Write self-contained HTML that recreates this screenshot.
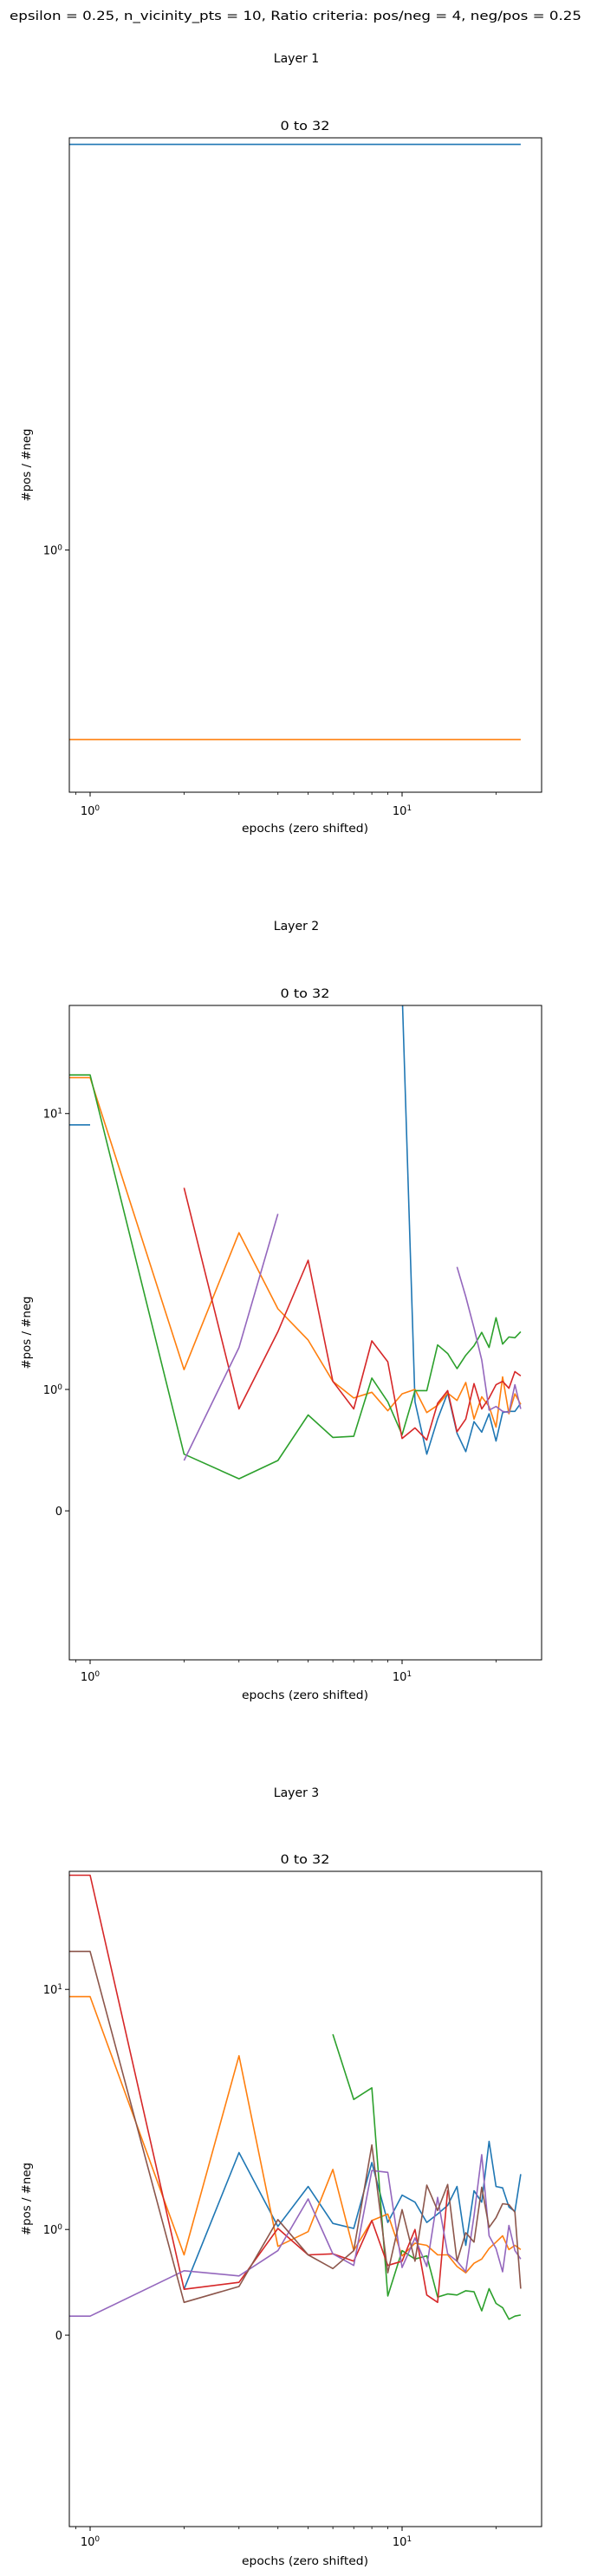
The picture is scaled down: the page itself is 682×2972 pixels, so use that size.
<!DOCTYPE html>
<html><head><meta charset="utf-8"><style>
html,body{margin:0;padding:0;background:#fff}
svg{display:block}
text{font-family:"DejaVu Sans","Liberation Sans",sans-serif;fill:#000}
</style></head><body>
<svg id="fig" width="682" height="2972" viewBox="0 0 682 2972" xmlns="http://www.w3.org/2000/svg">
<text x="341" y="23" font-size="14" text-anchor="middle" textLength="660" lengthAdjust="spacingAndGlyphs">epsilon = 0.25, n_vicinity_pts = 10, Ratio criteria: pos/neg = 4, neg/pos = 0.25</text>
<g id="charts"></g>
</svg>
<script>
// epochs 0..24 (epoch 0 is clipped off the log axis)
const epochs = [0,1,2,3,4,5,6,7,8,9,10,11,12,13,14,15,16,17,18,19,20,21,22,23,24];
const xTicks = [1,10];
const xMinor = [2,3,4,5,6,7,8,9,20];
const colors = ['#1f77b4','#ff7f0e','#2ca02c','#d62728','#9467bd','#8c564b'];
const N = null;
// Layer 1
const l1Blue = Array(25).fill(1.49);
const l1Orange = Array(25).fill(0.83);
// Layer 2
const l2Blue = [9.1,9.1,N,N,N,N,N,N,N,N,28,0.898,0.467,0.756,0.972,0.64,0.488,0.735,0.648,0.80,0.575,0.81,0.82,0.82,0.886];
const l2Orange = [13.5,13.5,1.18,3.7,1.96,1.51,1.07,0.93,0.977,0.825,0.964,1.0,0.81,0.87,0.97,0.91,1.06,0.756,0.94,0.86,0.69,1.11,0.8,0.964,0.877];
const l2Green = [13.8,13.8,0.467,0.264,0.415,0.79,0.605,0.614,1.10,0.898,0.627,0.99,0.99,1.45,1.35,1.19,1.33,1.44,1.61,1.42,1.82,1.46,1.55,1.54,1.62];
const l2Red = [N,N,5.38,0.84,1.62,2.94,1.07,0.84,1.50,1.26,0.596,0.683,0.583,0.886,0.99,0.652,0.756,1.05,0.84,0.93,1.04,1.07,1.01,1.16,1.12];
const l2Purple = [N,N,0.415,1.42,4.33,N,N,N,N,N,N,N,N,N,N,2.78,2.17,1.67,1.28,0.83,0.86,0.82,0.81,1.04,0.84];
// Layer 3
const l3Blue = [N,N,0.434,2.09,1.03,1.51,1.06,1.01,1.90,1.07,1.39,1.30,1.07,1.16,1.26,1.51,0.85,1.45,1.30,2.33,1.51,1.49,1.24,1.19,1.70];
const l3Orange = [9.33,9.33,0.76,5.29,0.84,0.98,1.78,0.80,1.09,1.16,0.75,0.87,0.85,0.76,0.76,0.65,0.59,0.68,0.72,0.82,0.88,0.94,0.81,0.85,0.81];
const l3Green = [N,N,N,N,N,N,6.5,3.48,3.89,0.37,0.80,0.72,0.75,0.36,0.39,0.38,0.42,0.41,0.23,0.44,0.30,0.26,0.15,0.18,0.19];
const l3Red = [29.9,29.9,0.434,0.50,1.01,0.76,0.77,0.70,1.09,0.66,0.70,1.0,0.38,0.31,1.46,N,N,N,N,N,N,N,N,N,N];
const l3Purple = [0.18,0.18,0.61,0.56,0.80,1.34,0.77,0.66,1.76,1.73,0.64,0.92,0.65,1.36,0.77,0.70,0.60,1.14,2.05,0.94,0.82,0.60,1.04,0.80,0.72];
const l3Brown = [14.4,14.4,0.31,0.46,1.10,0.76,0.63,0.80,2.25,0.59,1.21,0.70,1.53,1.20,1.54,0.70,0.97,0.88,1.50,1.02,1.12,1.28,1.27,1.18,0.44];

const NS='http://www.w3.org/2000/svg';
const root=document.getElementById('charts');
function mk(tag,attrs,parent){const e=document.createElementNS(NS,tag);for(const k in attrs)e.setAttribute(k,attrs[k]);(parent||root).appendChild(e);return e;}
const L=0.44;
function xScale(e){return e<=0?40:104+Math.log10(e)*360;}
function symUnits(v){return v>=1?L+Math.log10(v):v*L;}

const panels=[
 {name:'layer-1',title:'Layer 1',titleY:72,subY:150,top:159,bottom:914,tickY:940,labelY:960,
  y:v=>914-(Math.log10(v)+0.1034)/0.2794*755,
  yTicks:[1],series:[l1Blue,l1Orange],cidx:[0,1]},
 {name:'layer-2',title:'Layer 2',titleY:1073,subY:1151,top:1160,bottom:1915,tickY:1939,labelY:1960,
  y:v=>1743.1-symUnits(v)*318.3,
  yTicks:[10,1,0],series:[l2Blue,l2Orange,l2Green,l2Red,l2Purple],cidx:[0,1,2,3,4]},
 {name:'layer-3',title:'Layer 3',titleY:2073,subY:2150,top:2159,bottom:2915,tickY:2937,labelY:2959,
  y:v=>2694.1-symUnits(v)*277,
  yTicks:[10,1,0],series:[l3Blue,l3Orange,l3Green,l3Red,l3Purple,l3Brown],cidx:[0,1,2,3,4,5]}
];
const left=80,right=625;
panels.forEach((p,pi)=>{
  const g=mk('g',{});
  
  
  const t=mk('text',{x:342,y:p.titleY,'font-size':14,'text-anchor':'middle'},g);t.textContent=p.title;
  
  
  const st=mk('text',{x:352,y:p.subY,'font-size':14,'text-anchor':'middle',textLength:57,lengthAdjust:'spacingAndGlyphs'},g);st.textContent='0 to 32';
  
  
  const cp=mk('clipPath',{id:'clip'+pi},g);
  mk('rect',{x:left,y:p.top,width:right-left,height:p.bottom-p.top},cp);
  const lines=mk('g',{'clip-path':'url(#clip'+pi+')'},g);
  p.series.forEach((s,si)=>{
    let d='';let pen=false;
    s.forEach((v,i)=>{
      if(v===null){pen=false;return;}
      const X=xScale(epochs[i]).toFixed(1),Y=p.y(v).toFixed(1);
      d+=(pen?'L':'M')+X+' '+Y+' ';pen=true;
    });
    const path=mk('path',{d:d,fill:'none',stroke:colors[p.cidx[si]],'stroke-width':1.6,'stroke-linejoin':'round'},lines);
    
    
  });
  const frame=mk('rect',{x:left,y:p.top,width:right-left,height:p.bottom-p.top,fill:'none',stroke:'#000','stroke-width':1},g);
  
  
  xTicks.forEach((v,i)=>{
    const X=xScale(v);
    mk('line',{x1:X,x2:X,y1:p.bottom,y2:p.bottom+5,stroke:'#000','stroke-width':1},g);
    const tl=mk('text',{x:X,y:p.tickY,'font-size':13,'text-anchor':'middle'},g);
    tl.innerHTML='10<tspan font-size="9" dy="-5">'+(i)+'</tspan>';
    
    
  });
  xMinor.forEach(v=>{const X=xScale(v);mk('line',{x1:X,x2:X,y1:p.bottom,y2:p.bottom+3,stroke:'#000','stroke-width':0.8},g);});
  mk('line',{x1:xScale(0.9),x2:xScale(0.9),y1:p.bottom,y2:p.bottom+3,stroke:'#000','stroke-width':0.8},g);
  p.yTicks.forEach(v=>{
    const Y=p.y(v);
    mk('line',{x1:left-5,x2:left,y1:Y,y2:Y,stroke:'#000','stroke-width':1},g);
    const tl=mk('text',{x:left-8,y:Y+5,'font-size':13,'text-anchor':'end'},g);
    if(v===0)tl.textContent='0';else tl.innerHTML='10<tspan font-size="9" dy="-5">'+Math.round(Math.log10(v))+'</tspan>';
    
    
  });
  const xl=mk('text',{x:352,y:p.labelY,'font-size':13,'text-anchor':'middle',textLength:146,lengthAdjust:'spacingAndGlyphs'},g);
  xl.textContent='epochs (zero shifted)';
  
  
  const cy=(p.top+p.bottom)/2;
  const yl=mk('text',{x:0,y:0,'font-size':13,'text-anchor':'middle',textLength:84,lengthAdjust:'spacingAndGlyphs',transform:'translate(35,'+cy+') rotate(-90)'},g);
  yl.textContent='#pos / #neg';
  
  
});
</script>
</body></html>
